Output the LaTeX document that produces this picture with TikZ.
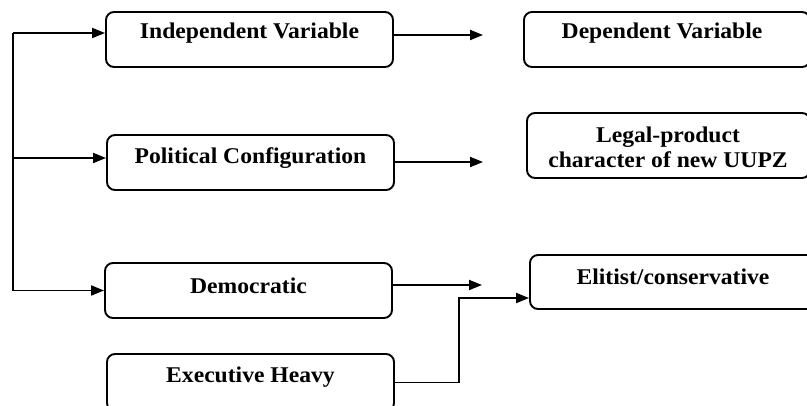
\documentclass[tikz,border=0pt]{standalone}
\usepackage{fontspec}
\setmainfont{Liberation Serif}
\newfontfamily\varfont{Liberation Serif}[FakeStretch=1.05]
\usetikzlibrary{arrows.meta}
\newlength{\du}
\setlength{\du}{1pt}
\definecolor{dialinecolor}{rgb}{0.000000, 0.000000, 0.000000}
\tikzset{
  varbox/.style={draw=dialinecolor, line width=1.9\du, rounded corners=8\du, inner sep=0pt, minimum width=287\du, minimum height=55\du},
  vartext/.style={font=\varfont\bfseries\fontsize{22.5}{25}\selectfont, text=dialinecolor, inner sep=0pt, align=center},
  link/.style={draw=dialinecolor, line width=1.9\du, -{Stealth[inset=0pt,length=13pt,width=10pt]}},
}
\begin{document}
\begin{tikzpicture}
\pgftransformyscale{-1.000000}
\useasboundingbox (0\du,0\du) rectangle (807\du,405\du);
\clip (0\du,0\du) rectangle (807\du,405\du);
% left column
\node[varbox] (iv) at (249.5\du,39.5\du){};
\node[vartext] (ivt) at (249.5\du,33\du){Independent Variable};
\node[varbox] (pc) at (250.5\du,162.5\du){};
\node[vartext] (pct) at (250.5\du,158\du){Political Configuration};
\node[varbox] (dem) at (248.5\du,290.5\du){};
\node[vartext] (demt) at (248.5\du,286\du){Democratic};
\node[varbox, minimum height=57\du] (eh) at (250.5\du,382.5\du){};
\node[vartext] (eht) at (250.5\du,377\du){Executive Heavy};
% right column
\node[varbox, minimum width=286\du] (dv) at (667\du,39.5\du){};
\node[vartext] (dvt) at (662\du,33\du){Dependent Variable};
\node[varbox, minimum width=283\du, minimum height=65\du] (lp) at (668.5\du,145.5\du){};
\node[vartext] (lpt) at (668\du,147.5\du){Legal-product\\character of new UUPZ};
\node[varbox, minimum width=285\du, minimum height=54\du] (el) at (672.5\du,282\du){};
\node[vartext] (elt) at (673\du,277\du){Elitist/conservative};
% connectors
\coordinate (sp) at (13\du,33\du);
\coordinate (ivend) at (483\du,35\du);
\coordinate (pcend) at (483\du,162\du);
\coordinate (demend) at (482\du,285\du);
\coordinate (jn) at (459\du,298\du);
\draw[link] (sp) -- (sp -| iv.west);
\draw[link] (sp |- pct) -- (pct -| pc.west);
\draw[link] (sp) |- (dem.west);
\draw[link] (ivend -| iv.east) -- (ivend);
\draw[link] (pcend -| pc.east) -- (pcend);
\draw[link] (demend -| dem.east) -- (demend);
\draw[link] (eh.east) -| (jn) -- (jn -| el.west);
\end{tikzpicture}
\end{document}
